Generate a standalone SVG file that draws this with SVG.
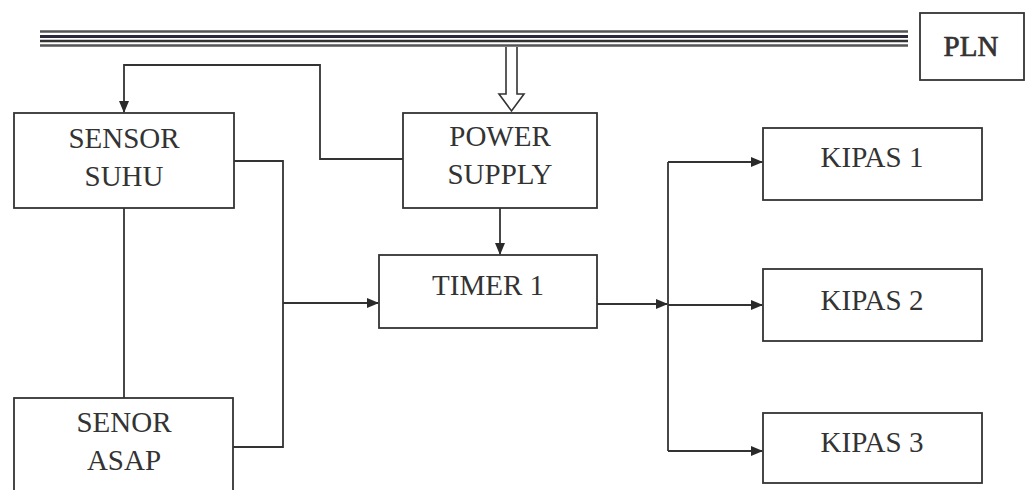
<svg xmlns="http://www.w3.org/2000/svg" width="1029" height="490" viewBox="0 0 1029 490">
<defs>
<marker id="ah" markerWidth="12" markerHeight="10" refX="11" refY="5" orient="auto" markerUnits="userSpaceOnUse">
<path d="M0,0 L12,5 L0,10 Z" fill="#2a2a2a"/>
</marker>
</defs>
<style>
.box{fill:#fff;stroke:#333;stroke-width:1.8}
.t{font-family:"Liberation Serif","Times New Roman",serif;font-size:29px;fill:#333;text-anchor:middle}
.c{fill:none;stroke:#333;stroke-width:1.8}
</style>
<rect width="1029" height="490" fill="#fff"/>
<g id="bus">
<line x1="40" y1="31.5" x2="908" y2="31.5" stroke="#555" stroke-width="2.5"/>
<line x1="40" y1="36.5" x2="908" y2="36.5" stroke="#2a2a3a" stroke-width="3"/>
<line x1="40" y1="41" x2="908" y2="41" stroke="#333" stroke-width="2.5"/>
<line x1="40" y1="45.5" x2="908" y2="45.5" stroke="#555" stroke-width="2.5"/>
</g>
<g id="pln">
<rect class="box" x="920" y="13" width="104" height="67"/>
<text class="t" x="971" y="56" stroke="#333" stroke-width="0.7">PLN</text>
</g>
<g id="sensor-suhu">
<rect class="box" x="14" y="113" width="220" height="95"/>
<text class="t" x="124" y="148">SENSOR</text>
<text class="t" x="124" y="186">SUHU</text>
</g>
<g id="senor-asap">
<rect class="box" x="14" y="398" width="219" height="100"/>
<text class="t" x="124" y="432">SENOR</text>
<text class="t" x="124" y="470">ASAP</text>
</g>
<g id="power-supply">
<rect class="box" x="403" y="113" width="194" height="95"/>
<text class="t" x="500" y="146">POWER</text>
<text class="t" x="500" y="184">SUPPLY</text>
</g>
<g id="timer1">
<rect class="box" x="379" y="255" width="218" height="73"/>
<text class="t" x="488" y="295">TIMER 1</text>
</g>
<g id="kipas1">
<rect class="box" x="763" y="128" width="219" height="72"/>
<text class="t" x="872" y="167">KIPAS 1</text>
</g>
<g id="kipas2">
<rect class="box" x="763" y="269" width="219" height="72"/>
<text class="t" x="872" y="310">KIPAS 2</text>
</g>
<g id="kipas3">
<rect class="box" x="763" y="413" width="219" height="70"/>
<text class="t" x="872" y="452">KIPAS 3</text>
</g>
<g id="connectors">
<path d="M506,47 L506,94 L499,94 L511.5,111 L524,94 L517,94 L517,47" fill="#fff" stroke="#333" stroke-width="1.6"/>
<path class="c" d="M403,159 L320,159 L320,65 L124,65 L124,112" marker-end="url(#ah)"/>
<path class="c" d="M234,161 L283,161 L283,447 L233,447"/>
<path class="c" d="M283,303 L378,303" marker-end="url(#ah)"/>
<path class="c" d="M124,208 L124,398"/>
<path class="c" d="M500,208 L500,254" marker-end="url(#ah)"/>
<path class="c" d="M597,304 L667,304" marker-end="url(#ah)"/>
<path class="c" d="M668,162 L668,451"/>
<path class="c" d="M668,162 L762,162" marker-end="url(#ah)"/>
<path class="c" d="M668,305 L762,305" marker-end="url(#ah)"/>
<path class="c" d="M668,451 L762,451" marker-end="url(#ah)"/>
</g>
</svg>
